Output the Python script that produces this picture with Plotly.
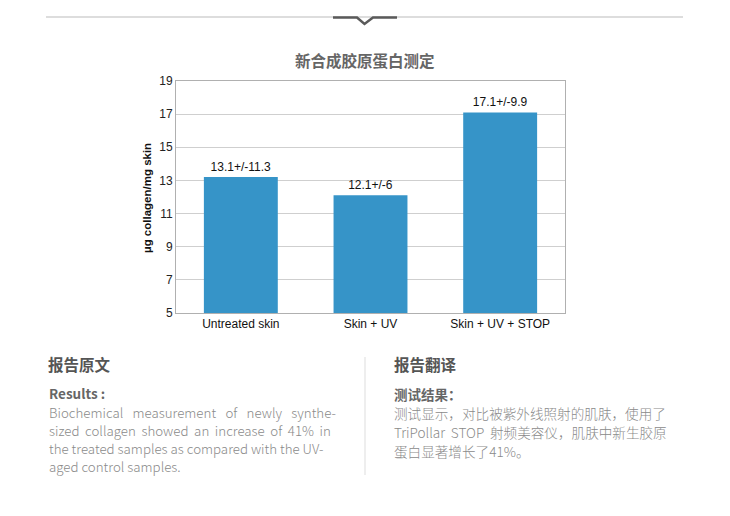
import plotly.graph_objects as go

categories = ["Untreated skin", "Skin + UV", "Skin + UV + STOP"]
values = [13.2, 12.1, 17.1]
bar_labels = ["13.1+/-11.3", "12.1+/-6", "17.1+/-9.9"]
y_ticks = [5, 7, 9, 11, 13, 15, 17, 19]

chart_title = "新合成胶原蛋白测定"
y_title = "µg collagen/mg skin"

left_head = "报告原文"
left_sub = "Results :"
left_lines = [
    "Biochemical\u2002\u2009measurement\u2002\u2009of\u2002\u2009newly\u2002\u2009synthe-",
    "sized \u2009collagen \u2009showed \u2009an \u2009increase \u2009of \u200941% \u2009in",
    "the treated samples as compared with the UV-",
    "aged control samples.",
]
right_head = "报告翻译"
right_sub = "测试结果："
right_lines = [
    "测试显示，对比被紫外线照射的肌肤，使用了",
    "TriPollar \u2009STOP \u2009射频美容仪，肌肤中新生胶原",
    "蛋白显著增长了41%。",
]

FW, FH = 730, 516
L, R, T, B = 176, 565, 81, 313
PW, PH = R - L, B - T


def px(x):
    return (x - L) / PW


def py(y):
    return (B - y) / PH


CJK = "Noto Sans CJK SC"
SANS = "Liberation Sans, Arial, sans-serif"

fig = go.Figure()
fig.add_trace(go.Bar(
    x=categories, y=values, width=0.57,
    marker=dict(color="#3694c8", line=dict(width=0)),
    text=bar_labels, textposition="outside", cliponaxis=False,
    textfont=dict(family=SANS, size=12, color="#111"),
    hoverinfo="skip",
))

ann = []
ann.append(dict(x=px(365), y=py(60), text="<b>" + chart_title + "</b>",
                font=dict(family=CJK, size=15.5, color="#666"),
                xanchor="center", yanchor="middle"))
ann.append(dict(x=px(147), y=py(198), text="<b>" + y_title + "</b>", textangle=-90,
                font=dict(family=SANS, size=11.5, color="#111"),
                xanchor="center", yanchor="middle"))

ann.append(dict(x=px(46), y=py(364), text="<b>" + left_head + "</b>",
                font=dict(family=CJK, size=15.5, color="#555"),
                xanchor="left", yanchor="middle"))
ann.append(dict(x=px(47), y=py(393), text="<b>" + left_sub + "</b>",
                font=dict(family=CJK, size=13.5, color="#666"),
                xanchor="left", yanchor="middle"))
for i, line in enumerate(left_lines):
    ann.append(dict(x=px(47), y=py(412 + i * 18.3), text=line,
                    font=dict(family=CJK, size=13.3, color="#8a8a8a", weight=300),
                    xanchor="left", yanchor="middle"))

ann.append(dict(x=px(392), y=py(364), text="<b>" + right_head + "</b>",
                font=dict(family=CJK, size=15.5, color="#555"),
                xanchor="left", yanchor="middle"))
ann.append(dict(x=px(392), y=py(394), text="<b>" + right_sub + "</b>",
                font=dict(family=CJK, size=13.5, color="#666"),
                xanchor="left", yanchor="middle"))
for i, line in enumerate(right_lines):
    ann.append(dict(x=px(392), y=py(413 + i * 19), text=line,
                    font=dict(family=CJK, size=13.6, color="#8a8a8a", weight=300),
                    xanchor="left", yanchor="middle"))

for a in ann:
    a.update(xref="paper", yref="paper", showarrow=False)

shapes = [
    dict(type="line", xref="paper", yref="paper", x0=px(46), x1=px(683), y0=py(17), y1=py(17),
         line=dict(color="#dddddd", width=2)),
    dict(type="path", xref="paper", yref="paper",
         path="M %f,%f L %f,%f L %f,%f L %f,%f L %f,%f" % (
             px(333), py(17.5), px(357), py(17.5), px(364.5), py(24), px(373), py(17.5), px(397), py(17.5)),
         line=dict(color="#5a5a5a", width=2.5)),
    dict(type="line", xref="paper", yref="paper", x0=px(365), x1=px(365), y0=py(357), y1=py(475),
         line=dict(color="#dddddd", width=1)),
]

fig.update_layout(
    width=FW, height=FH,
    margin=dict(l=L, r=FW - R, t=T, b=FH - B, pad=0),
    paper_bgcolor="white", plot_bgcolor="white",
    showlegend=False,
    annotations=ann, shapes=shapes,
    font=dict(family=SANS, size=12, color="#111"),
)
fig.update_xaxes(showline=True, linecolor="#b0b0b0", linewidth=1, mirror=True,
                 ticks="", tickfont=dict(family=SANS, size=12, color="#111"))
fig.update_yaxes(range=[5, 19], tickvals=y_ticks, showgrid=True, gridcolor="#cfcfcf",
                 showline=True, linecolor="#b0b0b0", linewidth=1, mirror=True,
                 zeroline=False, ticks="", tickfont=dict(family=SANS, size=12, color="#222"))

fig.write_html("out.html", config={"displayModeBar": False},
               post_script="document.body.style.margin='0';document.body.style.padding='0';")
